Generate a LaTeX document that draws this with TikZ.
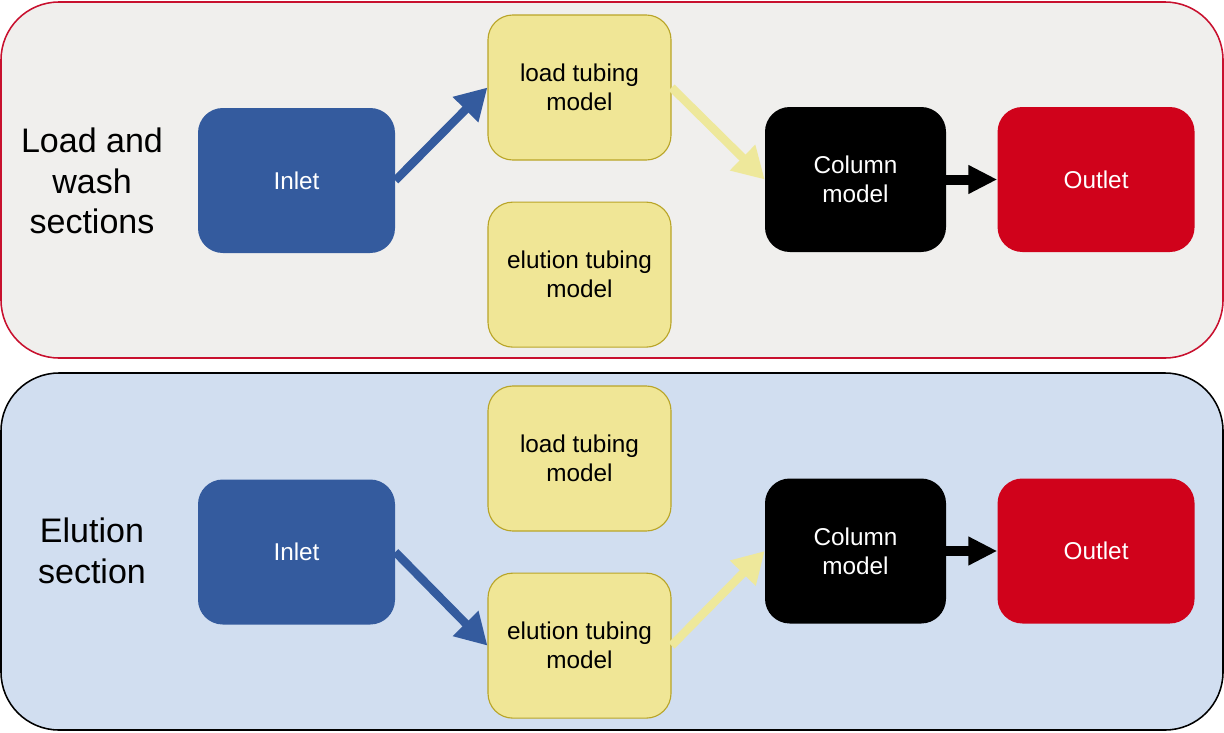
\documentclass[tikz,border=0pt]{standalone}
\usepackage{fontspec}
\setmainfont{Liberation Sans}
\usetikzlibrary{positioning, arrows.meta}
\definecolor{inletblue}{RGB}{52,91,158}
\definecolor{tubeyellow}{RGB}{240,230,150}
\definecolor{tubeborder}{RGB}{185,165,40}
\definecolor{outletred}{RGB}{208,2,27}
\definecolor{loadgray}{RGB}{240,239,237}
\definecolor{loadred}{RGB}{200,16,46}
\definecolor{elutionblue}{RGB}{209,222,240}
\definecolor{arrowyellow}{RGB}{238,232,155}
\tikzset{
  block/.style={rounded corners=0.62cm, minimum height=3.625cm, align=center, inner sep=0pt, font=\fontsize{17.3}{20.6}\selectfont},
  inlet/.style={block, fill=inletblue, text=white, minimum width=4.925cm},
  tubing/.style={block, fill=tubeyellow, draw=tubeborder, line width=0.8pt, minimum width=4.575cm},
  column/.style={block, fill=black, text=white, minimum width=4.525cm},
  outlet/.style={block, fill=outletred, text=white, minimum width=4.925cm},
  section/.style={align=center, font=\fontsize{24.2}{29}\selectfont},
  flow/.style={line width=0.21cm, -{Triangle[length=0.78cm, width=0.85cm]}},
  push/.style={line width=0.25cm, -{Triangle[length=0.725cm, width=0.675cm]}},
}

\begin{document}
\begin{tikzpicture}
  \useasboundingbox (0,0) rectangle (30.6,-18.3);

  % panels
  \draw [fill=loadgray, draw=loadred, line width=1.1pt, rounded corners=1.45cm] (0.025,-0.05) rectangle (30.575,-8.95);
  \draw [fill=elutionblue, draw=black, line width=1.1pt, rounded corners=1.45cm] (0.025,-9.325) rectangle (30.575,-18.25);

  % load and wash
  \node [section] (labelA) at (2.3,-4.525) {Load and\\wash\\sections};
  \node [inlet] (inletA) at (7.4125,-4.5125) {Inlet};
  \node [tubing] (loadA) at (14.4875,-2.1875) {load tubing\\model};
  \node [tubing, below=1.025cm of loadA] (elutionA) {elution tubing\\model};
  \node [column] (columnA) at (21.3875,-4.4875) {Column\\model};
  \node [outlet, right=1.275cm of columnA] (outletA) {Outlet};

  \draw [flow, inletblue] (inletA.east) -- (loadA.west);
  \draw [flow, arrowyellow] (loadA.east) -- (columnA.west);
  \draw [push] (columnA.east) -- (outletA.west);

  % elution
  \node [section] (labelB) at (2.3,-13.775) {Elution\\section};
  \node [inlet] (inletB) at (7.4125,-13.8) {Inlet};
  \node [tubing] (loadB) at (14.4875,-11.4625) {load tubing\\model};
  \node [tubing, below=1.025cm of loadB] (elutionB) {elution tubing\\model};
  \node [column] (columnB) at (21.3875,-13.775) {Column\\model};
  \node [outlet, right=1.275cm of columnB] (outletB) {Outlet};

  \draw [flow, inletblue] (inletB.east) -- (elutionB.west);
  \draw [flow, arrowyellow] (elutionB.east) -- (columnB.west);
  \draw [push] (columnB.east) -- (outletB.west);

\end{tikzpicture}
\end{document}
